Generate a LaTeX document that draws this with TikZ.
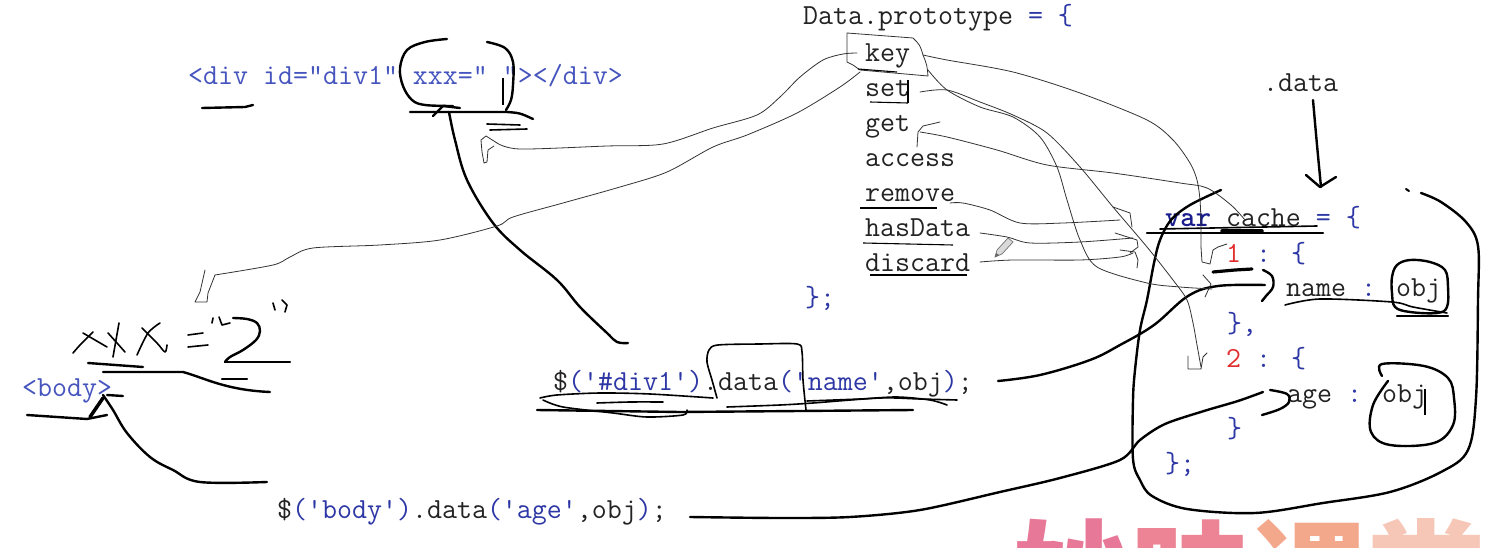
\documentclass[tikz,border=0pt]{standalone}
\usepackage{fontspec}
\newfontfamily\cjkwm{Noto Sans CJK SC}
\newcommand\mycode{\ttfamily\fontsize{29.1}{34}\selectfont}
\definecolor{cblue}{RGB}{45,55,165}
\definecolor{hblue}{RGB}{70,85,190}
\definecolor{cnavy}{RGB}{25,30,140}
\definecolor{cred}{RGB}{225,45,45}
\definecolor{ctext}{RGB}{35,35,35}
\definecolor{wmA}{RGB}{232,120,152}
\definecolor{wmB}{RGB}{236,132,150}
\definecolor{wmC}{RGB}{243,168,140}
\definecolor{wmD}{RGB}{246,198,182}
\begin{document}
\begin{tikzpicture}[x=1pt,y=-1pt,
  code/.style={inner sep=0pt, anchor=base west, font=\mycode, text=ctext},
  pen/.style={line width=2.4pt, black, line cap=round, line join=round},
  penm/.style={line width=1.6pt, black, line cap=round, line join=round},
  thinl/.style={line width=0.8pt, black!80, line cap=round, line join=round}]
\useasboundingbox (0,0) rectangle (1492,548);
\begin{scope}
\clip (0,0) rectangle (1492,548);
\fill[white] (0,0) rectangle (1492,548);

% ---------- texts ----------
\node[code] (proto) at (803,25) {Data.prototype \textcolor{cblue}{= \{}};
\node[code] (keyn) at (865,62) {key};
\node[code] (setn) at (865,97) {set};
\node[code] (getn) at (865,132) {get};
\node[code] (accn) at (865,167) {access};
\node[code] (remn) at (865,202) {remove};
\node[code] (hasn) at (865,237) {hasData};
\node[code] (disn) at (865,272) {discard};
\node[code, text=cblue] (pend) at (805,306) {\};};

\node[code] (dotdata) at (1263,92) {.data};
\node[code] (cachen) at (1165,227) {\textcolor{cnavy}{\bfseries var} cache \textcolor{cblue}{= \{}};
\node[code] (onen) at (1226,262) {\textcolor{cred}{1} \textcolor{cblue}{: \{}};
\node[code] (namen) at (1286,297) {name \textcolor{cblue}{:} obj};
\node[code, text=cblue] (cone) at (1227,332) {\},};
\node[code] (twon) at (1226,367) {\textcolor{cred}{2} \textcolor{cblue}{: \{}};
\node[code] (agen) at (1287,402) {age \textcolor{cblue}{:} obj};
\node[code, text=cblue] (ctwo) at (1227,437) {\}};
\node[code, text=cblue] (cend) at (1165,472) {\};};

\node[code, text=hblue] (divn) at (188,85) {<div id="div1" xxx=" "></div>};
\node[code, text=hblue] (bodyn) at (22,396) {<body>};
\node[code] (jqa) at (553,390) {\$\textcolor{cblue}{('\#div1')}.data\textcolor{cblue}{('name'},obj\textcolor{cblue}{)};};
\node[code] (jqb) at (277,518) {\$\textcolor{cblue}{('body')}.data\textcolor{cblue}{('age'},obj\textcolor{cblue}{)};};

% watermark
\node[inner sep=0pt, anchor=base west, font=\cjkwm\bfseries\fontsize{118}{118}\selectfont] (wm) at (1013,619)
  {\textcolor{wmA}{妙}\textcolor{wmB}{味}\textcolor{wmC}{课}\textcolor{wmD}{堂}};

% ---------- text cursors ----------
\draw[line width=1.5pt] (503,78) -- (503,105);
\draw[line width=1.5pt] (1425,389) -- (1425,415);

% ---------- div circle and underlines ----------
\draw[pen] plot[smooth, tension=0.6] coordinates {(447,39)(425,42)(407,50)(400,68)(403,86)(412,100)(425,105)(453,106)};
\draw[pen] plot[smooth, tension=0.6] coordinates {(487,42)(505,48)(513,62)(513,85)(511,100)(506,110)};
\draw[pen] (410,112) -- (507,112) .. controls (520,113) .. (533,119);
\draw[penm] (487,124) -- (520,125);
\draw[penm] (490,130) -- (527,129);
\draw[pen] (202,108) -- (245,107) -- (253,105);

% arrow $('#div1') -> div
\draw[pen] plot[smooth, tension=0.6] coordinates {(628,343)(617,342)(607,333)(580,307)(557,280)(520,250)(493,223)(467,180)(455,140)(449,112)};
\draw[pen] (433,116) -- (443,106) -- (460,108);

% box around .data(
\draw[penm] plot[smooth, tension=0.5] coordinates {(717,398)(712,380)(707,362)(709,350)(718,345)(760,344)(797,344)(802,352)(803,380)(806,410)};
% scribbled underlines
\draw[penm] plot[smooth, tension=0.5] coordinates {(540,398)(557,395)(600,393)(650,394)(713,398)};
\draw[pen] (537,410) -- (680,412) -- (800,411) -- (913,410);
\draw[penm] plot[smooth, tension=0.5] coordinates {(543,400)(563,407)(613,413)(647,417)(683,415)(687,410)};
\draw[penm] plot[smooth, tension=0.5] coordinates {(597,403)(630,402)(663,402)};
\draw[penm] plot[smooth, tension=0.5] coordinates {(727,407)(780,405)(813,403)(880,398)(920,399)(957,400)};
\draw[penm] plot[smooth, tension=0.5] coordinates {(807,401)(860,399)(897,397)(930,400)(947,405)};

% arrow $('#div1') -> name
\draw[pen] plot[smooth, tension=0.6] coordinates {(998,381)(1040,375)(1090,360)(1120,345)(1154,325)(1188,296)(1218,286)(1265,285)};
\draw[pen] plot[smooth, tension=0.6] coordinates {(1263,270)(1272,276)(1273,287)(1266,296)(1262,301)};
\draw[line width=3.2pt, line cap=round] (1213,272) -- (1235,270) -- (1252,269);

% arrow $('body') -> age
\draw[pen] plot[smooth, tension=0.5] coordinates {(690,517)(780,518)(850,517)(920,510)(1000,492)(1060,478)(1120,460)(1140,440)(1165,424)(1204,411)(1238,401)(1263,392)};
\draw[pen] plot[smooth, tension=0.6] coordinates {(1262,415)(1280,409)(1289,402)(1287,394)(1270,390)};

% big loop round the cache
\draw[pen] plot[smooth, tension=0.55] coordinates {(1221,190)(1190,205)(1171,220)(1160,240)(1154,263)(1147,300)(1140,330)(1135,370)(1133,400)(1133,459)(1140,480)(1152,496)(1187,509)(1255,513)(1323,503)(1390,492)(1441,472)(1468,450)(1476,398)(1478,300)(1478,246)(1466,222)(1441,202)(1421,193)};
\draw[line width=2pt, line cap=round] (1406,189) -- (1409,191);

% underlines of var cache
\draw[pen] (1147,233) -- (1323,233);
\draw[penm] (1160,229) -- (1317,226);
\draw[line width=3.5pt, line cap=round] (1222,231) -- (1262,231);

% obj circles
\draw[pen] plot[smooth cycle, tension=0.6] coordinates {(1392,277)(1397,265)(1410,260)(1430,262)(1445,270)(1448,287)(1447,307)(1437,313)(1410,312)(1395,307)(1392,293)};
\draw[pen] (1397,316) -- (1448,316);
\draw[penm] plot[smooth, tension=0.5] coordinates {(1285,305)(1320,299)(1392,302)(1413,307)(1447,313)};
\draw[pen] plot[smooth, tension=0.6] coordinates {(1382,376)(1382,364)(1424,366)(1448,378)(1454,398)(1453,425)(1434,443)(1390,445)(1371,432)(1373,405)(1388,381)};

% .data arrow
\draw[pen] plot[smooth, tension=0.5] coordinates {(1313,100)(1317,145)(1321,187)};
\draw[pen] (1306,175) -- (1320,187) -- (1336,177);

% <body> arrow
\draw[pen] (103,372) -- (183,372) .. controls (205,378) and (225,390) .. (270,392);
\draw[pen] (222,379) -- (247,379);
\draw[pen] (107,395) -- (123,396);
\draw[line width=3.5pt, line cap=round] (103,398) -- (90,417);
\draw[pen] (27,415) -- (87,419) -- (107,415);
\draw[pen] plot[smooth, tension=0.6] coordinates {(103,395)(113,410)(127,433)(150,457)(173,470)(200,482)(267,482)};

% handwritten xxx="2"
\draw[penm] plot[smooth] coordinates {(73,353)(80,345)(87,338)(93,332)};
\draw[penm] plot[smooth] coordinates {(83,333)(95,340)(107,347)};
\draw[penm] plot[smooth] coordinates {(108,333)(117,343)(125,352)};
\draw[penm] plot[smooth] coordinates {(119,323)(116,340)(113,357)};
\draw[penm] plot[smooth] coordinates {(137,355)(148,333)(160,323)};
\draw[penm] plot[smooth] coordinates {(142,328)(157,343)(165,352)(167,345)};
\draw[penm] (188,335) -- (203,333);
\draw[penm] (188,347) -- (208,345);
\draw[penm] (212,323) -- (213,318);
\draw[penm] (219,317) -- (222,325) -- (230,323);
\draw[pen] plot[smooth, tension=0.6] coordinates {(233,318)(247,319)(257,323)(260,331)(256,340)(243,350)(230,357)(225,362)};
\draw[penm] (273,303) -- (275,310);
\draw[penm] (282,300) -- (287,305) -- (285,312);
\draw[pen] (225,362) -- (290,362);
\draw[pen] (88,363) -- (143,367);

% ---------- thin lines from Data.prototype ----------
% box round key
\draw[thinl] (847,62) -- (847,33) -- (913,38) .. controls (920,45) .. (923,55) .. controls (927,65) .. (928,76) -- (860,70) -- (853,65) -- (847,62);
% underlines
\draw[line width=1.1pt] (870,102) -- (908,103);
\draw[line width=2pt] (908,80) -- (908,103);
\draw[line width=1.1pt] (860,208) -- (937,208);
\draw[line width=1.1pt] (863,243) -- (953,245);
\draw[line width=1.1pt] (870,275) -- (967,275);
\draw[line width=1.1pt] (858,69) -- (897,72);

% key -> hook below div
\draw[thinl] plot[smooth, tension=0.5] coordinates {(857,53)(843,54)(823,60)(800,77)(780,97)(757,115)(713,128)(663,144)(607,146)(520,149)(497,143)};
\draw[thinl] plot coordinates {(497,143)(486,136)(481,140)(482,152)(484,163)(487,162)(488,150)(494,146)};
% key -> hook near xxx="2"
\draw[thinl] plot[smooth, tension=0.5] coordinates {(860,72)(840,87)(797,113)(747,135)(713,147)(667,172)(620,187)(563,203)(513,217)(497,226)(440,240)(380,245)(313,248)(290,257)(273,265)(215,275)};
\draw[thinl] (215,275) -- (208,293) -- (207,302) -- (195,302) -- (200,292) -- (205,270);
% key -> 1
\draw[thinl] plot[smooth, tension=0.5] coordinates {(923,55)(947,60)(1013,72)(1080,93)(1147,120)(1173,140)(1190,163)(1197,180)(1200,200)(1201,225)(1201,247)};
\draw[thinl] (1201,247) -- (1202,262) -- (1210,264) -- (1213,250) -- (1218,247) -- (1227,244);
% key -> name
\draw[thinl] plot[smooth, tension=0.5] coordinates {(928,70)(947,90)(980,107)(1013,117)(1040,137)(1057,167)(1067,200)(1080,240)(1097,267)(1147,283)(1180,287)(1212,289)};
\draw[thinl] (1203,275) -- (1211,284) -- (1205,297);
% set -> 2
\draw[thinl] plot[smooth, tension=0.5] coordinates {(920,92)(947,90)(980,102)(1013,115)(1047,133)(1080,167)(1113,207)(1147,247)(1173,280)(1187,300)(1193,323)(1197,345)(1201,367)};
\draw[thinl] (1188,356) -- (1188,369) -- (1201,369) -- (1203,357) -- (1207,353);
% get -> cache
\draw[thinl] (917,147) -- (918,132) -- (923,126) -- (940,122);
\draw[thinl] plot[smooth, tension=0.5] coordinates {(920,132)(947,137)(997,150)(1047,165)(1113,173)(1180,183)(1207,188)(1231,205)(1245,220)};
% remove, hasData, discard
\draw[thinl] plot[smooth, tension=0.5] coordinates {(950,203)(963,203)(990,210)(1020,223)(1063,223)(1120,220)};
\draw[thinl] (1113,207) -- (1130,213) -- (1132,227);
\draw[thinl] plot[smooth, tension=0.5] coordinates {(980,233)(1007,237)(1030,243)(1080,242)(1133,238)};
\draw[thinl] (1115,233) -- (1137,240) -- (1138,247) -- (1130,253);
\draw[thinl] plot[smooth, tension=0.5] coordinates {(980,262)(1013,260)(1080,260)(1120,257)(1133,253)};
\draw[thinl] (1120,250) -- (1135,252) -- (1138,260) -- (1137,268);

% pencil cursor
\draw[black!55, fill=black!15, line width=0.7pt] (995,257) -- (997,250) -- (1008,238) -- (1013,242) -- (1002,254) -- cycle;
\fill[black!60] (995,257) -- (996,253) -- (999,255) -- cycle;
\end{scope}
\end{tikzpicture}
\end{document}
